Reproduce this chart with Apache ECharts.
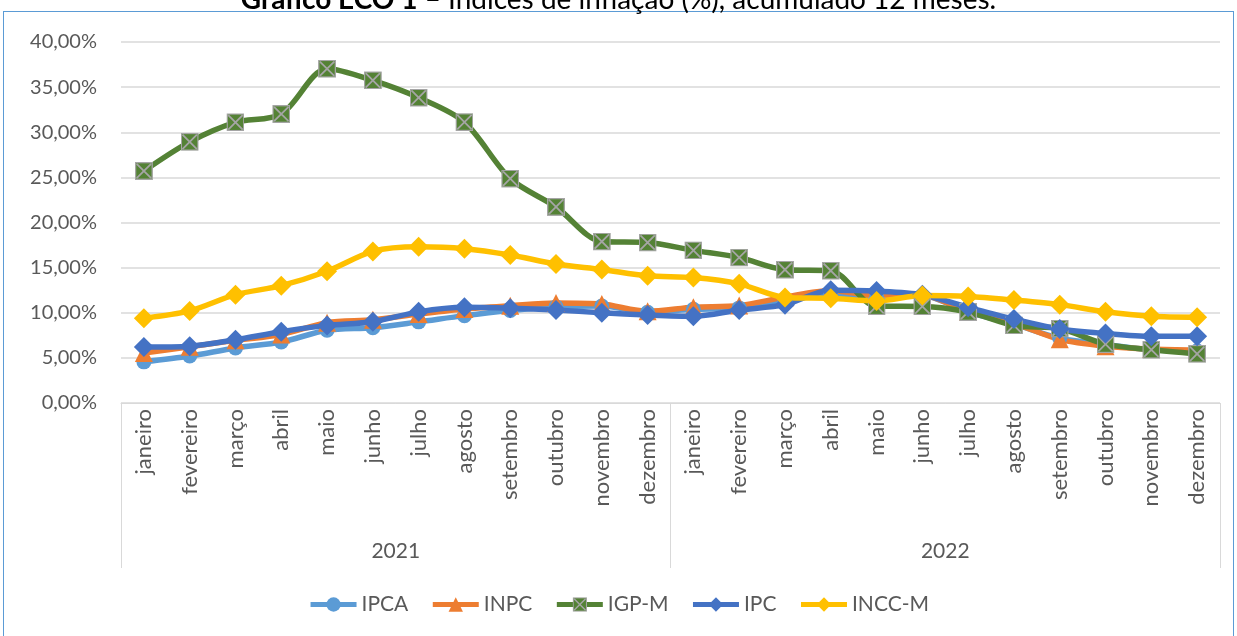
<!DOCTYPE html>
<html>
<head>
<meta charset="utf-8">
<script src="https://cdn.jsdelivr.net/npm/echarts@6/dist/echarts.min.js"></script>
<style>
  html, body { margin: 0; padding: 0; background: #fff; overflow: hidden; }
  #frame { position: absolute; left: 3px; top: 11px; width: 1231px; height: 700px; border: 1px solid #5B9BD5; box-sizing: border-box; }
  #chart { position: absolute; left: 0; top: 0; width: 1237px; height: 636px; }
</style>
</head>
<body>
<div id="frame"></div>
<div id="chart"></div>
<script>
// dados (% acumulado 12 meses)
const months = ['janeiro', 'fevereiro', 'março', 'abril', 'maio', 'junho', 'julho', 'agosto', 'setembro', 'outubro', 'novembro', 'dezembro']
const years = ['2021', '2022']
const categories = months.concat(months)
const ipca = [4.56, 5.20, 6.10, 6.76, 8.06, 8.35, 8.99, 9.68, 10.25, 10.67, 10.74, 10.06, 10.38, 10.54, 11.30, 12.13, 11.73, 11.89, 10.07, 8.73, 7.17, 6.47, 5.90, 5.79]
const inpc = [5.53, 6.22, 6.94, 7.59, 8.90, 9.22, 9.85, 10.42, 10.78, 11.08, 10.96, 10.16, 10.60, 10.80, 11.73, 12.47, 11.90, 11.92, 10.12, 8.83, 7.05, 6.30, 5.97, 5.85]
const igpm = [25.71, 28.94, 31.10, 32.02, 37.04, 35.75, 33.83, 31.12, 24.86, 21.73, 17.89, 17.78, 16.91, 16.12, 14.77, 14.66, 10.72, 10.70, 10.08, 8.59, 8.25, 6.52, 5.90, 5.45]
const ipc = [6.2, 6.3, 7.0, 7.9, 8.6, 9.0, 10.1, 10.6, 10.5, 10.3, 10.0, 9.75, 9.6, 10.3, 10.9, 12.5, 12.4, 12.0, 10.6, 9.3, 8.2, 7.7, 7.4, 7.4]
const inccm = [9.4, 10.2, 12.0, 13.0, 14.6, 16.8, 17.3, 17.1, 16.4, 15.4, 14.8, 14.1, 13.9, 13.2, 11.7, 11.6, 11.3, 11.9, 11.8, 11.4, 10.9, 10.1, 9.6, 9.5]

const font = 'Lato, "Open Sans", sans-serif'
const labelColor = '#595959'
const gridColor = '#D9D9D9'

// marcador quadrado verde com X cinza (IGP-M)
const xSquare = 'image://data:image/svg+xml;utf8,' + encodeURIComponent(
  '<svg xmlns="http://www.w3.org/2000/svg" width="20" height="20" viewBox="0 0 20 20">' +
  '<rect x="0.75" y="0.75" width="18.5" height="18.5" fill="#548235" stroke="#A5A5A5" stroke-width="1.5"/>' +
  '<path d="M2 2 L18 18 M18 2 L2 18" stroke="#A5A5A5" stroke-width="2"/></svg>')

const chart = echarts.init(document.getElementById('chart'))

const mkSeries = (name, data, color, symbol, size) => ({
  name: name,
  type: 'line',
  data: data,
  smooth: 0.3,
  symbol: symbol,
  symbolSize: size,
  showAllSymbol: true,
  xAxisIndex: 0,
  lineStyle: { color: color, width: 5.5 },
  itemStyle: { color: color },
  emphasis: { disabled: true }
})

chart.setOption({
  animation: false,
  textStyle: { fontFamily: font },
  title: {
    text: '{b|Gráfico ECO 1} – Índices de inflação (%), acumulado 12 meses.',
    left: 'center',
    top: -19,
    textStyle: {
      fontFamily: font,
      fontSize: 28,
      fontWeight: 'normal',
      color: '#000',
      rich: { b: { fontFamily: font, fontSize: 28, fontWeight: 'bold', color: '#000' } }
    }
  },
  grid: { left: 121, right: 17, top: 42, bottom: 233, containLabel: false },
  legend: {
    bottom: 16,
    left: 'center',
    itemWidth: 46,
    itemHeight: 18,
    itemGap: 22,
    lineStyle: { width: 5 },
    textStyle: { fontFamily: font, fontSize: 21, color: labelColor },
    data: ['IPCA', 'INPC', 'IGP-M', 'IPC', 'INCC-M']
  },
  xAxis: [
    {
      type: 'category',
      data: categories,
      boundaryGap: true,
      axisLine: { lineStyle: { color: gridColor, width: 1 } },
      axisTick: { show: false },
      axisLabel: {
        rotate: 90,
        margin: 6,
        interval: 0,
        fontFamily: font,
        fontSize: 22,
        color: labelColor
      }
    },
    {
      type: 'category',
      data: years,
      position: 'bottom',
      boundaryGap: true,
      axisLine: { show: false },
      axisTick: { show: true, length: 165, lineStyle: { color: gridColor, width: 1 } },
      axisLabel: { margin: 138, fontFamily: font, fontSize: 21, color: labelColor }
    }
  ],
  yAxis: {
    type: 'value',
    min: 0,
    max: 40,
    interval: 5,
    axisLine: { show: false },
    axisTick: { show: false },
    splitLine: { lineStyle: { color: gridColor, width: 1.5 } },
    axisLabel: {
      margin: 24,
      fontFamily: font,
      fontSize: 20,
      color: labelColor,
      formatter: v => v.toFixed(2).replace('.', ',') + '%'
    }
  },
  series: [
    mkSeries('IPCA', ipca, '#5B9BD5', 'circle', 15),
    mkSeries('INPC', inpc, '#ED7D31', 'triangle', 18),
    mkSeries('IGP-M', igpm, '#548235', xSquare, 18),
    mkSeries('IPC', ipc, '#4472C4', 'diamond', 20),
    mkSeries('INCC-M', inccm, '#FFC000', 'diamond', 20)
  ]
})
</script>
</body>
</html>
